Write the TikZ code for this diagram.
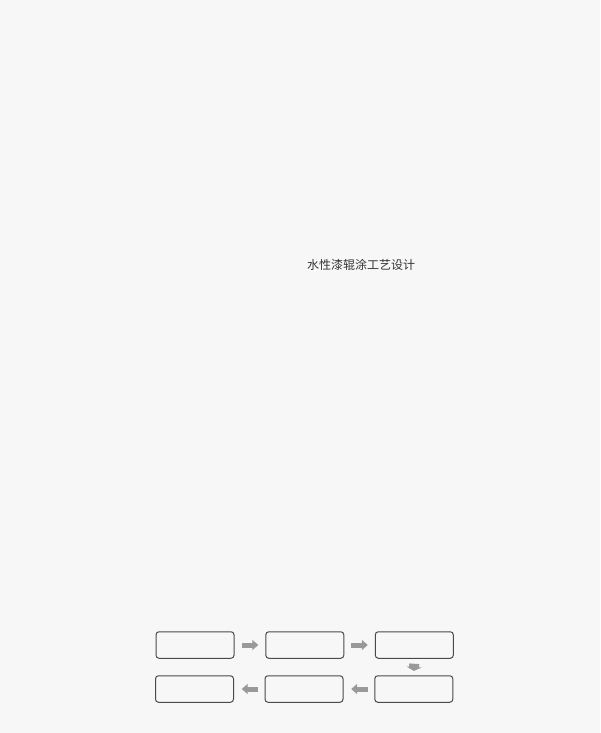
\documentclass[tikz,border=0pt]{standalone}
\usepackage{fontspec}
\newfontfamily\cjk{Noto Sans CJK SC}
\usetikzlibrary{arrows.meta,calc}
\definecolor{bg}{HTML}{F7F7F7}
\definecolor{boxline}{HTML}{4A4A4A}
\definecolor{arrowgray}{HTML}{999999}
\definecolor{titlegray}{HTML}{333333}
\tikzset{
  stepbox/.style={draw=boxline, line width=1pt, rounded corners=3pt, minimum width=78pt, minimum height=26.5pt, inner sep=0pt},
  blockh/.style={draw=arrowgray, line width=5pt, -{Triangle[width=10pt,length=6pt,fill=arrowgray]}},
  blockv/.style={draw=arrowgray, line width=10pt, -{Triangle[width=15pt,length=4pt,fill=arrowgray]}},
  titletext/.style={font=\cjk\fontsize{12pt}{14pt}\selectfont, text=titlegray, inner sep=0pt}
}
\begin{document}
\begin{tikzpicture}[x=1pt,y=-1pt]
\fill[bg] (0,0) rectangle (600,733);
\useasboundingbox (0,0) rectangle (600,733);
\node[titletext] (title) at (361,265) {水性漆辊涂工艺设计};
\node[stepbox] (b1) at (195,645) {};
\node[stepbox] (b2) at (304.8,645) {};
\node[stepbox] (b3) at (414.3,645) {};
\node[stepbox] (b4) at (413.8,689) {};
\node[stepbox] (b5) at (304,689) {};
\node[stepbox] (b6) at (194.5,689) {};
\draw[blockh] ($(b1.east)+(7.7,0)$) -- ($(b2.west)+(-7,0)$);
\draw[blockh] ($(b2.east)+(7,0)$) -- ($(b3.west)+(-7,0)$);
\draw[blockv] ($(b3.south)+(0,5)$) -- ($(b4.north)+(0,-4.3)$);
\draw[blockh] ($(b4.west)+(-6.3,0)$) -- ($(b5.east)+(7.7,0)$);
\draw[blockh] ($(b5.west)+(-6.3,0)$) -- ($(b6.east)+(7.7,0)$);
\end{tikzpicture}
\end{document}
